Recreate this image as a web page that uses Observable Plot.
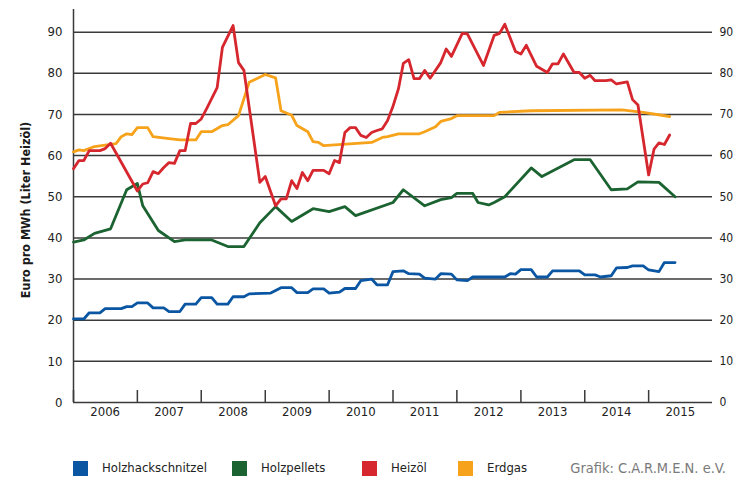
<!DOCTYPE html>
<html>
<head>
<meta charset="utf-8">
<script src="https://cdn.jsdelivr.net/npm/d3@7"></script>
<script src="https://cdn.jsdelivr.net/npm/@observablehq/plot@0.6"></script>
<style>
  body { margin: 0; background: #fff; }
  #wrap { position: relative; width: 734px; height: 481px; overflow: hidden; background: #fff;
          font-family: "Liberation Sans Narrow", "DejaVu Sans Condensed", "Roboto", sans-serif; color: #222; }
  #chart { position: absolute; left: 0; top: 0; }
  #ytitle { position: absolute; left: 25px; top: 210px; transform: translate(-50%, -50%) rotate(-90deg);
            white-space: nowrap; font-weight: bold; font-size: 12.5px; color: #1a1a1a; }
  .sw { position: absolute; top: 461px; width: 15px; height: 15px; }
  .lt { position: absolute; top: 459px; font-size: 13px; line-height: 18px; color: #222; white-space: nowrap; }
  #credit { position: absolute; top: 458px; right: 8px; font-size: 14.5px; line-height: 20px; color: #7a7a7a; white-space: nowrap; }
</style>
</head>
<body>
<div id="wrap">
  <div id="chart"></div>
  <div id="ytitle"></div>
  <div id="legend"></div>
  <div id="credit"></div>
</div>
<script>
// ---- Data ----
const years = [2006, 2007, 2008, 2009, 2010, 2011, 2012, 2013, 2014, 2015];
const yTicks = [0, 10, 20, 30, 40, 50, 60, 70, 80, 90];
const seriesNames = ["Holzhackschnitzel", "Holzpellets", "Heizöl", "Erdgas"];
const seriesColors = ["#0a56a3", "#1c6332", "#d6262e", "#f7a21b"];
const yTitle = "Euro pro MWh (Liter Heizöl)";
const credit = "Grafik: C.A.R.M.E.N. e.V.";

const holzhackschnitzel = [
  ["2006-01",20.3],["2006-03",20.3],["2006-04",21.8],["2006-06",21.8],["2006-07",22.8],["2006-10",22.8],
  ["2006-11",23.3],["2006-12",23.3],["2007-01",24.2],["2007-03",24.2],["2007-04",23.0],["2007-06",23.0],
  ["2007-07",22.1],["2007-09",22.1],["2007-10",23.9],["2007-12",23.9],["2008-01",25.5],["2008-03",25.5],
  ["2008-04",23.9],["2008-06",23.9],["2008-07",25.7],["2008-09",25.7],["2008-10",26.4],["2009-02",26.6],
  ["2009-04",27.9],["2009-06",27.9],["2009-07",26.7],["2009-09",26.7],["2009-10",27.6],["2009-12",27.6],
  ["2010-01",26.6],["2010-03",26.8],["2010-04",27.7],["2010-06",27.7],["2010-07",29.6],["2010-09",30.0],
  ["2010-10",28.6],["2010-12",28.6],["2011-01",31.8],["2011-03",32.0],["2011-04",31.3],["2011-06",31.2],
  ["2011-07",30.2],["2011-09",30.0],["2011-10",31.3],["2011-12",31.2],["2012-01",29.8],["2012-03",29.6],
  ["2012-04",30.5],["2012-10",30.5],["2012-11",31.3],["2012-12",31.2],["2013-01",32.3],["2013-03",32.3],
  ["2013-04",30.5],["2013-06",30.5],["2013-07",32.0],["2013-12",32.0],["2014-01",31.0],["2014-03",31.0],
  ["2014-04",30.5],["2014-06",30.8],["2014-07",32.7],["2014-09",32.8],["2014-10",33.2],["2014-12",33.2],
  ["2015-01",32.2],["2015-03",31.8],["2015-04",34.0],["2015-06",34.0]
];
const holzpellets = [
  ["2006-01",39.0],["2006-03",39.5],["2006-05",41.1],["2006-08",42.2],["2006-11",51.7],["2007-01",53.2],
  ["2007-02",47.8],["2007-05",41.8],["2007-08",39.1],["2007-10",39.5],["2008-03",39.5],["2008-06",37.9],
  ["2008-09",37.9],["2008-12",43.7],["2009-03",47.6],["2009-06",44.0],["2009-10",47.1],["2010-01",46.4],
  ["2010-04",47.6],["2010-06",45.4],["2011-01",48.6],["2011-03",51.7],["2011-07",47.8],["2011-10",49.3],
  ["2011-12",49.8],["2012-01",50.8],["2012-04",50.8],["2012-05",48.6],["2012-07",48.0],["2012-08",48.6],
  ["2012-10",50.0],["2013-03",57.0],["2013-05",54.9],["2013-11",59.0],["2014-02",59.0],["2014-06",51.7],
  ["2014-09",51.9],["2014-11",53.6],["2015-03",53.5],["2015-06",50.0]
];
const heizoel = [
  ["2006-01",56.8],["2006-02",58.8],["2006-03",58.8],["2006-04",61.2],["2006-05",61.2],["2006-06",61.2],
  ["2006-07",61.7],["2006-08",63.0],["2007-01",51.4],["2007-02",53.1],["2007-03",53.4],["2007-04",56.1],
  ["2007-05",55.6],["2007-06",57.1],["2007-07",58.3],["2007-08",58.1],["2007-09",61.2],["2007-10",61.2],
  ["2007-11",67.8],["2007-12",67.8],["2008-01",68.9],["2008-02",71.4],["2008-04",76.5],["2008-05",86.3],
  ["2008-07",91.6],["2008-08",82.6],["2008-09",80.7],["2008-12",53.5],["2009-01",54.9],["2009-03",47.8],
  ["2009-04",49.5],["2009-05",49.5],["2009-06",53.9],["2009-07",52.0],["2009-08",55.9],["2009-09",53.9],
  ["2009-10",56.4],["2009-12",56.4],["2010-01",55.6],["2010-02",58.8],["2010-03",58.3],["2010-04",65.6],
  ["2010-05",66.8],["2010-06",66.8],["2010-07",64.9],["2010-08",64.4],["2010-09",65.6],["2010-10",66.1],
  ["2010-11",66.5],["2010-12",68.5],["2011-01",72.0],["2011-02",76.2],["2011-03",82.4],["2011-04",83.3],
  ["2011-05",78.7],["2011-06",78.7],["2011-07",80.7],["2011-08",78.8],["2011-10",82.6],["2011-11",85.9],
  ["2011-12",84.1],["2012-02",89.7],["2012-03",89.6],["2012-06",81.9],["2012-08",89.2],["2012-09",89.7],
  ["2012-10",91.9],["2012-12",85.3],["2013-01",84.7],["2013-02",86.8],["2013-04",81.7],["2013-06",80.2],
  ["2013-07",82.3],["2013-08",82.3],["2013-09",84.7],["2013-11",80.2],["2013-12",80.2],["2014-01",78.8],
  ["2014-02",79.5],["2014-03",78.2],["2014-05",78.2],["2014-06",78.4],["2014-07",77.4],["2014-09",77.9],
  ["2014-10",73.6],["2014-11",72.3],["2015-01",55.3],["2015-02",61.6],["2015-03",63.1],["2015-04",62.7],
  ["2015-05",65.0]
];
const erdgas = [
  ["2006-01",60.9],["2006-02",61.4],["2006-03",61.2],["2006-05",62.2],["2006-08",62.7],["2006-09",62.9],
  ["2006-10",64.6],["2006-11",65.3],["2006-12",65.1],["2007-01",66.8],["2007-03",66.8],["2007-04",64.6],
  ["2007-07",64.1],["2007-09",63.8],["2007-12",63.8],["2008-01",65.8],["2008-03",65.8],["2008-05",67.3],
  ["2008-06",67.5],["2008-08",69.7],["2008-10",77.8],["2009-01",79.7],["2009-03",78.9],["2009-04",70.9],
  ["2009-06",69.8],["2009-07",67.3],["2009-09",65.8],["2009-10",63.4],["2009-11",63.2],["2009-12",62.4],
  ["2010-09",63.2],["2010-11",64.4],["2010-12",64.6],["2011-02",65.3],["2011-06",65.3],["2011-07",65.8],
  ["2011-09",67.0],["2011-10",68.3],["2011-12",69.0],["2012-01",69.7],["2012-08",69.7],["2012-09",70.5],
  ["2013-03",70.9],["2014-08",71.1],["2014-12",70.5],["2015-05",69.5]
];

// ---- Build ----
const parse = d3.utcParse("%Y-%m");
const toRows = (arr) => arr.map(([d, v]) => ({date: parse(d), value: v}));
const seriesData = [holzhackschnitzel, holzpellets, heizoel, erdgas].map(toRows);
const yearStarts = years.map(y => new Date(Date.UTC(y, 0, 1)));
const yearMids = years.map(y => new Date(Date.UTC(y, 6, 1)));
const xDomain = [new Date(Date.UTC(years[0], 0, 1)), new Date(Date.UTC(years[years.length - 1] + 1, 0, 1))];
const gridColor = "#3a3a3a";
const fontFamily = '"Liberation Sans Narrow", "DejaVu Sans Condensed", "Roboto", sans-serif';

const drawOrder = [0, 1, 3, 2];
const chart = Plot.plot({
  width: 734,
  height: 430,
  marginLeft: 73,
  marginRight: 22,
  marginTop: 9,
  marginBottom: 28,
  style: {fontFamily, fontSize: "13px", color: "#222", background: "transparent", overflow: "visible"},
  x: {type: "utc", domain: xDomain},
  y: {domain: [0, 95.5]},
  marks: [
    Plot.gridY(yTicks, {stroke: gridColor, strokeOpacity: 1, strokeWidth: 1.5}),
    Plot.gridX(yearStarts, {stroke: gridColor, strokeOpacity: 1, strokeWidth: 1.5, insetTop: 381}),
    Plot.ruleX([xDomain[0]], {stroke: gridColor, strokeWidth: 1.5}),
    Plot.axisY(yTicks, {anchor: "left", tickSize: 0, tickPadding: 11, label: null}),
    Plot.axisY(yTicks, {anchor: "right", tickSize: 0, tickPadding: 7, fontSize: 12, label: null}),
    Plot.axisX(yearMids, {anchor: "bottom", tickSize: 0, tickPadding: 4, tickFormat: d3.utcFormat("%Y"), label: null}),
    ...drawOrder.map(i => Plot.lineY(seriesData[i], {x: "date", y: "value", stroke: seriesColors[i], strokeWidth: 2.8}))
  ]
});
document.getElementById("chart").appendChild(chart);
document.getElementById("ytitle").textContent = yTitle;
document.getElementById("credit").textContent = credit;

// Legend
const swatchX = [73, 232, 362, 458];
const legend = document.getElementById("legend");
seriesNames.forEach((name, i) => {
  const sw = document.createElement("div");
  sw.className = "sw";
  sw.style.left = swatchX[i] + "px";
  sw.style.background = seriesColors[i];
  legend.appendChild(sw);
  const t = document.createElement("div");
  t.className = "lt";
  t.style.left = (swatchX[i] + 29) + "px";
  t.textContent = name;
  legend.appendChild(t);
});
</script>
</body>
</html>
